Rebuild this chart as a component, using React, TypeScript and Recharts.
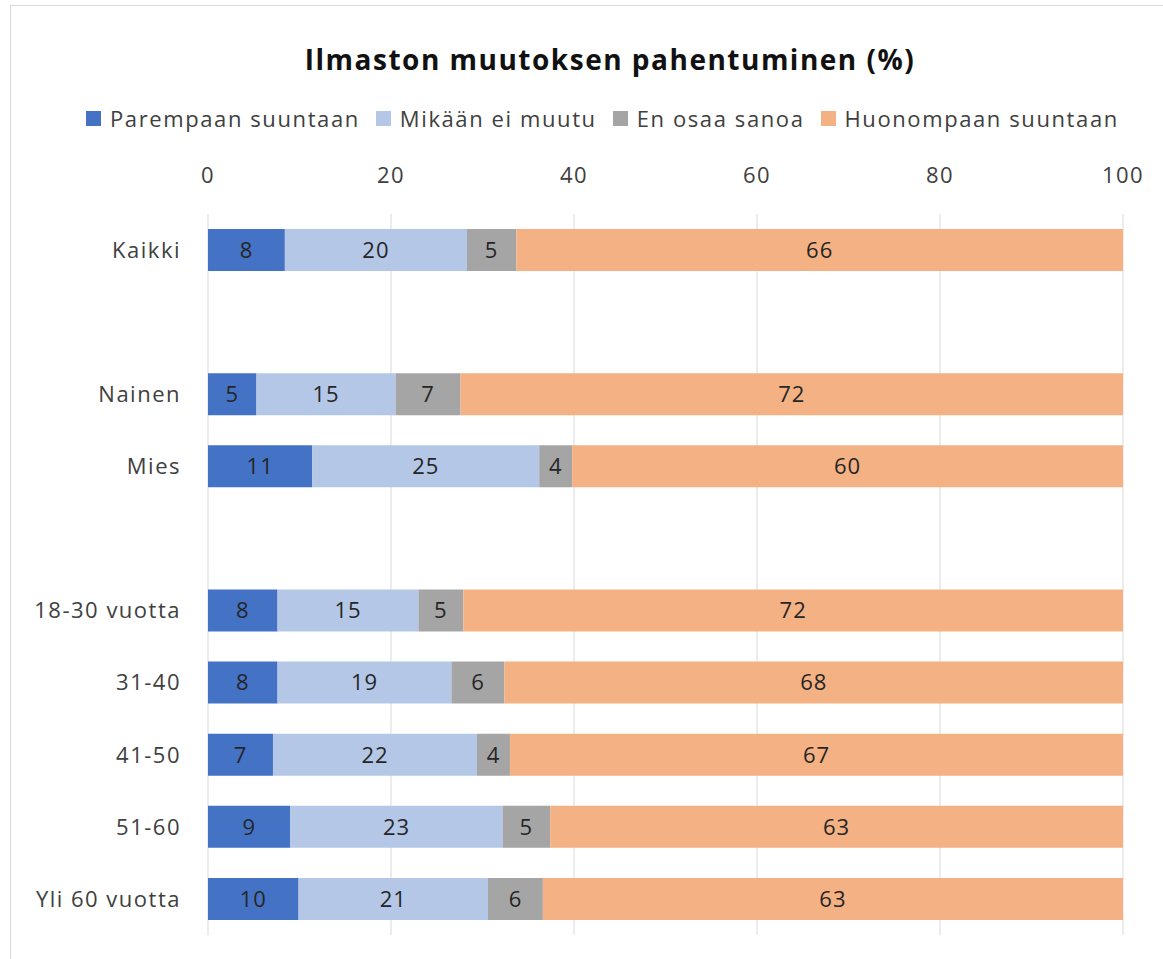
import React from 'react';
import { BarChart, Bar, XAxis, YAxis, CartesianGrid, Legend, LabelList } from 'recharts';

const categories = ['Kaikki', ' ', 'Nainen', 'Mies', '  ', '18-30 vuotta', '31-40', '41-50', '51-60', 'Yli 60 vuotta'];
const parempaan = [8.4, null, 5.3, 11.4, null, 7.6, 7.6, 7.1, 9.0, 9.9];
const mikaan = [19.9, null, 15.2, 24.8, null, 15.4, 19.0, 22.3, 23.2, 20.7];
const enOsaa = [5.4, null, 7.1, 3.6, null, 4.9, 5.8, 3.6, 5.2, 6.0];
const huonompaan = [66.3, null, 72.4, 60.2, null, 72.1, 67.6, 67.0, 62.6, 63.4];
const xTicks = [0, 20, 40, 60, 80, 100];

const seriesNames = ['Parempaan suuntaan', 'Mikään ei muutu', 'En osaa sanoa', 'Huonompaan suuntaan'];
const seriesColors = ['#4472C4', '#B4C7E7', '#A5A5A5', '#F4B183'];

const data = categories.map((name, i) => ({
  name,
  s0: parempaan[i],
  s1: mikaan[i],
  s2: enOsaa[i],
  s3: huonompaan[i],
}));

const FONT = "'Open Sans', sans-serif";

const fmt = (v: any) => (v == null || v === 0 ? '' : String(Math.round(Number(v))));

const renderLegend = (props: any) => {
  const payload = [...(props.payload || [])].sort(
    (a: any, b: any) => seriesNames.indexOf(a.value) - seriesNames.indexOf(b.value)
  );
  return (
    <div style={{ display: 'flex', alignItems: 'center', height: 24, whiteSpace: 'nowrap', fontFamily: FONT }}>
      {payload.map((entry: any, idx: number) => (
        <div key={idx} style={{ display: 'flex', alignItems: 'center', marginRight: 16 }}>
          <div style={{ width: 15, height: 15, background: entry.color, marginRight: 9 }} />
          <span style={{ fontSize: 22, lineHeight: '24px', color: '#404040', letterSpacing: 1.6 }}>{entry.value}</span>
        </div>
      ))}
    </div>
  );
};

export default function App() {
  return (
    <div style={{ position: 'absolute', left: 0, top: 0, width: 1163, height: 959, background: '#fff', overflow: 'hidden' }}>
      <div style={{ position: 'absolute', left: 10, top: 5, width: 1200, height: 1000, borderTop: '1px solid #d9d9d9', borderLeft: '1px solid #d9d9d9' }} />
      <div
        style={{
          position: 'absolute',
          left: 0,
          top: 45,
          width: 1220,
          textAlign: 'center',
          fontFamily: FONT,
          fontWeight: 700,
          fontSize: 28,
          lineHeight: '28px',
          letterSpacing: 1.5,
          color: '#111',
        }}
      >
        Ilmaston muutoksen pahentuminen (%)
      </div>
      <div style={{ position: 'absolute', left: 0, top: 0 }}>
        <BarChart
          width={1163}
          height={959}
          data={data}
          layout="vertical"
          margin={{ top: 154, right: 40, bottom: 24, left: 8 }}
          barSize={42}
        >
          <CartesianGrid horizontal={false} stroke="#d9d9d9" />
          <XAxis
            type="number"
            orientation="top"
            domain={[0, 100]}
            ticks={xTicks}
            height={60}
            axisLine={false}
            tickLine={false}
            tickMargin={25}
            interval={0}
            tick={{ fontSize: 22, fill: '#404040', fontFamily: FONT, letterSpacing: 1.5 }}
          />
          <YAxis
            type="category"
            dataKey="name"
            width={200}
            axisLine={false}
            tickLine={false}
            tickMargin={21}
            interval={0}
            tick={{ fontSize: 22, fill: '#404040', fontFamily: FONT, letterSpacing: 1.5 }}
          />
          <Legend
            verticalAlign="middle"
            align="center"
            content={renderLegend}
            wrapperStyle={{ top: 106, left: 86, width: 'auto' }}
          />
          {['s0', 's1', 's2', 's3'].map((key, i) => (
            <Bar
              key={key}
              dataKey={key}
              stackId="a"
              name={seriesNames[i]}
              fill={seriesColors[i]}
              isAnimationActive={false}
            >
              <LabelList
                dataKey={key}
                position="center"
                formatter={fmt}
                style={{ fontSize: 22, fill: '#262626', fontFamily: FONT, letterSpacing: 1 }}
              />
            </Bar>
          ))}
        </BarChart>
      </div>
    </div>
  );
}
